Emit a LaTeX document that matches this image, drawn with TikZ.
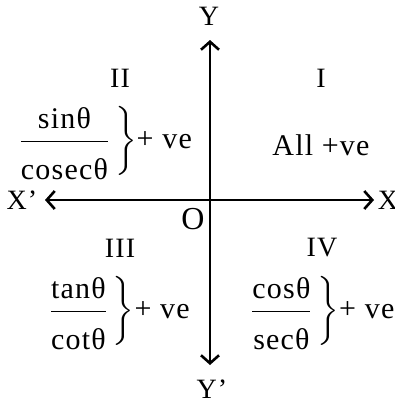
\documentclass[tikz,border=0pt]{standalone}
\usepackage{amsmath}
\usepackage{fontspec}
\setmainfont[LetterSpace=4]{Liberation Serif}
\usepackage{tikz}
\usetikzlibrary{arrows.meta, positioning}

\newcommand{\trigfrac}[2]{$\left.\dfrac{\text{#1}}{\rule{0pt}{17pt}\text{#2}}\,\right\}$+ ve}

\begin{document}
\begin{tikzpicture}[
    x=0.5pt, y=-0.5pt,
    lbl/.style={inner sep=0pt, font=\fontsize{14}{16}\selectfont},
    sign/.style={inner sep=0pt, font=\fontsize{15}{17}\selectfont},
    axis/.style={line width=1.3pt, {Straight Barb[length=4pt, width=9pt]}-{Straight Barb[length=4pt, width=9pt]}}
]
\useasboundingbox (0,0) rectangle (395,402);

% Axes
\coordinate (o) at (210,200);
\coordinate (xtip) at (374,200);
\coordinate (xxtip) at (45,200);
\coordinate (ytip) at (210,40);
\coordinate (yytip) at (210,365);
\draw[axis] (xxtip) -- (xtip);
\draw[axis] (yytip) -- (ytip);

% Axis labels
\node[lbl] (xr) at (388,200) {X};
\node[lbl] (xl) at (22,200) {X’};
\node[lbl] (yt) at (209,16) {Y};
\node[lbl] (yb) at (212,389) {Y’};
\node[lbl, font=\fontsize{16}{18}\selectfont] (org) at (193,219) {O};

% Quadrant numbers
\node[lbl] (q1) at (321,78) {I};
\node[lbl] (q2) at (120,78) {II};
\node[lbl] (q3) at (120,248) {III};
\node[lbl] (q4) at (322,248) {IV};

% Signs
\node[sign] (s1) at (321,145) {All +ve};
\node[sign] (s2) at (104,143) {\trigfrac{sinθ}{cosecθ}};
\node[sign] (s3) at (118,313) {\trigfrac{tanθ}{cotθ}};
\node[sign] (s4) at (321,313) {\trigfrac{cosθ}{secθ}};

\end{tikzpicture}
\end{document}
